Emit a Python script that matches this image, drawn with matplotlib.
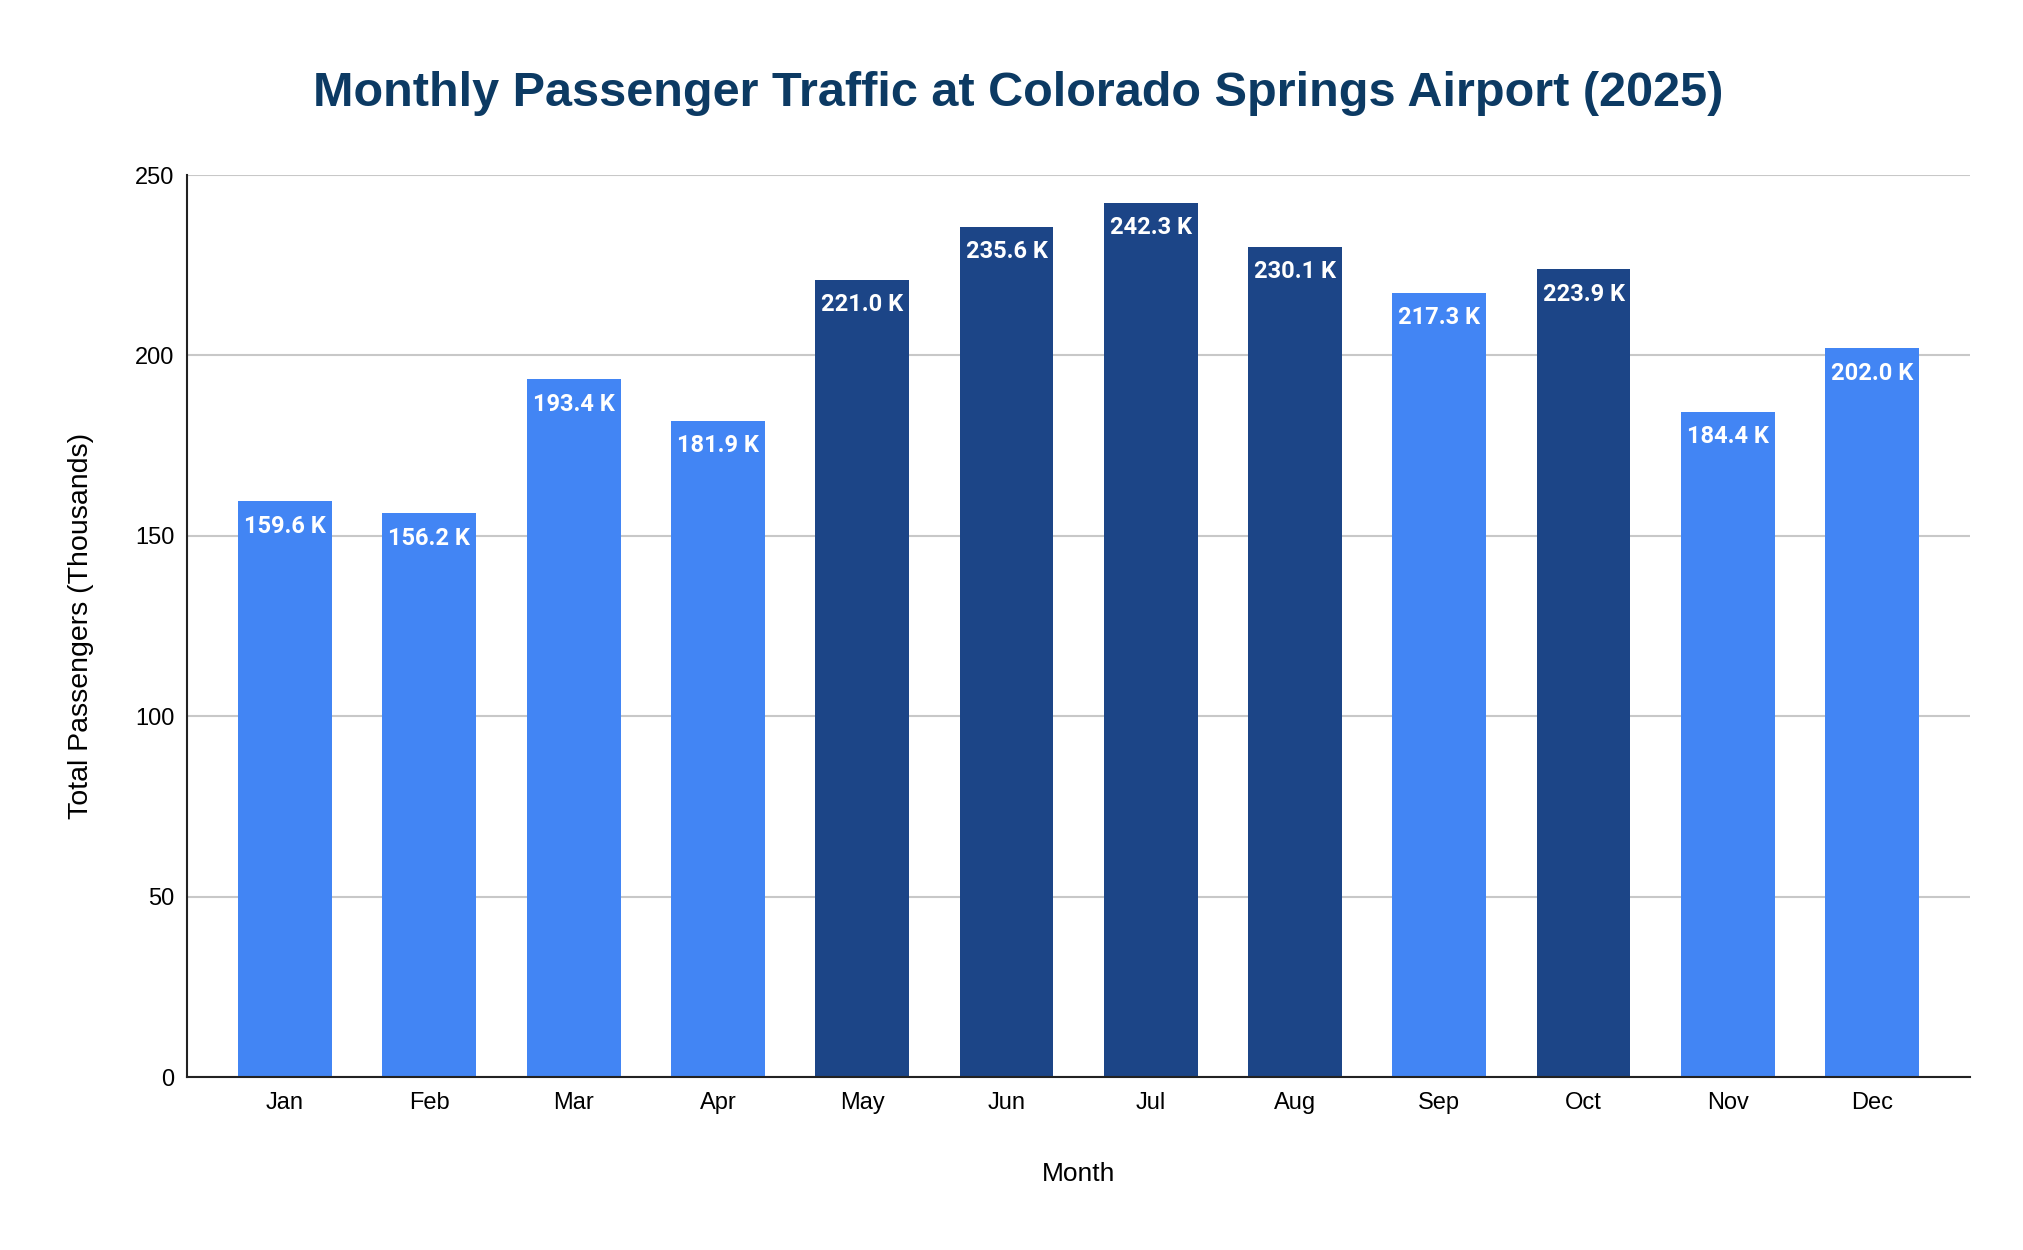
import numpy as np
import matplotlib
matplotlib.use('Agg')
import matplotlib.pyplot as plt

# data (thousands of passengers)
months = ['Jan', 'Feb', 'Mar', 'Apr', 'May', 'Jun', 'Jul', 'Aug', 'Sep', 'Oct', 'Nov', 'Dec']
passengers = [159.6, 156.2, 193.4, 181.9, 221.0, 235.6, 242.3, 230.1, 217.3, 223.9, 184.4, 202.0]
y_ticks = [0, 50, 100, 150, 200, 250]

light = '#4285F4'
dark = '#1C4587'
# busy months (over 220 K) drawn darker
colors = [dark if v > 220 else light for v in passengers]

plt.rcParams['font.family'] = ['Liberation Sans', 'DejaVu Sans']

fig = plt.figure(figsize=(20.24, 12.5), dpi=100)
ax = fig.add_axes([0.0924, 0.1384, 0.881, 0.7216])

x = np.arange(len(months))
bars = ax.bar(x, passengers, width=0.65, color=colors, zorder=3)

for b, v in zip(bars, passengers):
    ax.annotate('%.1f K' % v, (b.get_x() + b.get_width() / 2, v),
                xytext=(0, -18), textcoords='offset points',
                ha='center', va='center', color='white', fontsize=17,
                fontweight='bold', family=['Roboto', 'DejaVu Sans'], zorder=4)

ax.set_xlim(-0.68, len(months) - 1 + 0.68)
ax.set_ylim(0, 250)
ax.set_yticks(y_ticks)
ax.set_xticks(x)
ax.set_xticklabels(months)
ax.tick_params(axis='both', length=0, labelsize=17, colors='#000000')
ax.tick_params(axis='x', pad=11)
ax.tick_params(axis='y', pad=9)

ax.grid(axis='y', color='#c8c8c8', linewidth=1.5, zorder=0)
for s in ['top', 'right']:
    ax.spines[s].set_visible(False)
for s in ['left', 'bottom']:
    ax.spines[s].set_color('#222222')
    ax.spines[s].set_linewidth(1.5)
    ax.spines[s].set_zorder(5)

ax.set_ylabel('Total Passengers (Thousands)', fontsize=20.5)
ax.yaxis.set_label_coords(-0.052, 0.5)
ax.set_xlabel('Month', fontsize=19)
ax.xaxis.set_label_coords(0.5, -0.094)

fig.text(0.503, 0.925, 'Monthly Passenger Traffic at Colorado Springs Airport (2025)',
         ha='center', va='center', fontsize=35, fontweight='bold', color='#0C3A63')

fig.savefig('out.png', dpi=100, facecolor='white')
